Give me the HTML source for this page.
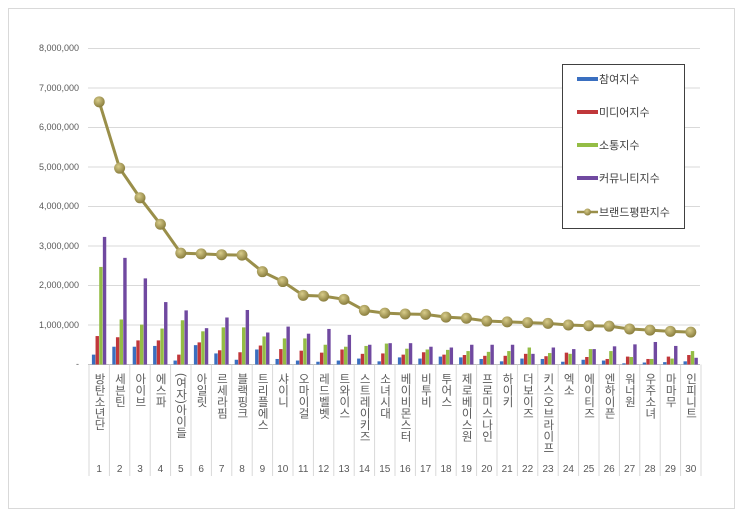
<!DOCTYPE html>
<html><head><meta charset="utf-8"><style>
body{margin:0;background:#fff;width:743px;height:518px;overflow:hidden}
svg{display:block}
.yl{font:9px "Liberation Sans",sans-serif;fill:#595959;text-anchor:end}
.n{font:10px "Liberation Sans",sans-serif;fill:#595959;text-anchor:middle}
.k{font-family:"Liberation Sans","Noto Sans CJK KR",sans-serif;font-size:11.5px;fill:#595959;writing-mode:tb;glyph-orientation-vertical:0;letter-spacing:0px}
.lg{font-family:"Liberation Sans","Noto Sans CJK KR",sans-serif;font-size:11px;fill:#404040}
</style></head><body>
<svg id="s" width="743" height="518" xmlns="http://www.w3.org/2000/svg">
<defs>
<radialGradient id="m" cx="40%" cy="35%" r="65%"><stop offset="0" stop-color="#d8cc8a"/><stop offset="1" stop-color="#8a7e3e"/></radialGradient>
</defs>
<rect x="8.5" y="8.5" width="726" height="500" fill="#fff" stroke="#d9d9d9"/>
<g id="grid" stroke="#d9d9d9" stroke-width="1"></g>
<g>
<text class="yl" x="79" y="51">8,000,000</text>
<text class="yl" x="79" y="91">7,000,000</text>
<text class="yl" x="79" y="130">6,000,000</text>
<text class="yl" x="79" y="170">5,000,000</text>
<text class="yl" x="79" y="209">4,000,000</text>
<text class="yl" x="79" y="249">3,000,000</text>
<text class="yl" x="79" y="288">2,000,000</text>
<text class="yl" x="79" y="328">1,000,000</text>
<text class="yl" x="79" y="367">-</text>
</g>
<g id="bars"></g>
<g id="line"></g>
<g id="labels">
<text class="k" x="99" y="373">방탄소년단</text>
<text class="k" x="119.4" y="373">세븐틴</text>
<text class="k" x="139.8" y="373">아이브</text>
<text class="k" x="160.2" y="373">에스파</text>
<text class="k" x="180.6" y="373">(여자)아이들</text>
<text class="k" x="201" y="373">아일릿</text>
<text class="k" x="221.4" y="373">르세라핌</text>
<text class="k" x="241.8" y="373">블랙핑크</text>
<text class="k" x="262.2" y="373">트리플에스</text>
<text class="k" x="282.6" y="373">샤이니</text>
<text class="k" x="303" y="373">오마이걸</text>
<text class="k" x="323.4" y="373">레드벨벳</text>
<text class="k" x="343.8" y="373">트와이스</text>
<text class="k" x="364.2" y="373">스트레이키즈</text>
<text class="k" x="384.6" y="373">소녀시대</text>
<text class="k" x="405" y="373">베이비몬스터</text>
<text class="k" x="425.4" y="373">비투비</text>
<text class="k" x="445.8" y="373">투어스</text>
<text class="k" x="466.2" y="373">제로베이스원</text>
<text class="k" x="486.6" y="373">프로미스나인</text>
<text class="k" x="507" y="373">하이키</text>
<text class="k" x="527.4" y="373">더보이즈</text>
<text class="k" x="547.8" y="373">키스오브라이프</text>
<text class="k" x="568.2" y="373">엑소</text>
<text class="k" x="588.6" y="373">에이티즈</text>
<text class="k" x="609" y="373">엔하이픈</text>
<text class="k" x="629.4" y="373">워너원</text>
<text class="k" x="649.8" y="373">우주소녀</text>
<text class="k" x="670.2" y="373">마마무</text>
<text class="k" x="690.6" y="373">인피니트</text>
</g>
<g id="nums"></g>
<rect x="562.5" y="64.5" width="122" height="164" fill="#fff" stroke="#404040"/>
<rect x="577" y="77" width="21" height="4" fill="#3a6fc0"/>
<rect x="577" y="110" width="21" height="4" fill="#c0373a"/>
<rect x="577" y="143" width="21" height="4" fill="#94bd45"/>
<rect x="577" y="176" width="21" height="4" fill="#7049a0"/>
<line x1="577" y1="212" x2="598" y2="212" stroke="#9a8f4a" stroke-width="2.5"/>
<circle cx="587.5" cy="212" r="3.5" fill="url(#m)"/>
<text class="lg" x="599" y="83">참여지수</text>
<text class="lg" x="599" y="116">미디어지수</text>
<text class="lg" x="599" y="149">소통지수</text>
<text class="lg" x="599" y="182">커뮤니티지수</text>
<text class="lg" x="599" y="216">브랜드평판지수</text>
</svg>
<script>
var ns="http://www.w3.org/2000/svg";
function el(t,a,p){var e=document.createElementNS(ns,t);for(var k in a)e.setAttribute(k,a[k]);p.appendChild(e);return e;}
var g=document.getElementById('grid');
for(var i=1;i<=8;i++){var y=364.5-i*39.5;el('line',{x1:88,x2:700,y1:y,y2:y},g);}
el('line',{x1:88,x2:700,y1:364.5,y2:364.5,stroke:"#bfbfbf"},g);
var X0=89,W=20.4;
for(var i=0;i<=30;i++){var x=X0+i*W;el('line',{x1:x,x2:x,y1:364.5,y2:476,stroke:"#d9d9d9"},g);}
var nums=document.getElementById('nums');
for(var i=0;i<30;i++){var t=el('text',{class:'n',x:X0+W*(i+0.5),y:472},nums);t.textContent=String(i+1);}
var d=[[.25,.72,2.47,3.23],[.45,.69,1.14,2.7],[.45,.61,1.01,2.18],[.47,.61,.91,1.58],[.1,.25,1.12,1.37],[.49,.56,.84,.92],[.28,.36,.94,1.19],[.12,.31,.94,1.38],[.38,.48,.71,.81],[.14,.39,.66,.96],[.1,.35,.66,.78],[.07,.3,.5,.9],[.1,.38,.45,.75],[.15,.27,.47,.5],[.08,.28,.53,.54],[.18,.25,.4,.54],[.15,.31,.38,.45],[.2,.25,.37,.43],[.18,.24,.34,.5],[.14,.22,.32,.5],[.08,.22,.34,.5],[.15,.27,.43,.27],[.14,.21,.29,.43],[.07,.3,.27,.39],[.12,.19,.39,.39],[.1,.14,.34,.46],[.03,.2,.19,.51],[.05,.14,.14,.57],[.06,.2,.15,.47],[.08,.24,.34,.17]];
var cols=["#3a6fc0","#c0373a","#94bd45","#7049a0"];
var b=document.getElementById('bars');
for(var i=0;i<30;i++){var cx=X0+W*(i+0.5);for(var j=0;j<4;j++){var h=d[i][j]*39.5;el('rect',{x:cx-7.3+j*3.65,y:364.5-h,width:3.4,height:h,fill:cols[j]},b);}}
var L=[6.65,4.97,4.22,3.55,2.82,2.8,2.78,2.77,2.35,2.1,1.75,1.73,1.65,1.37,1.3,1.28,1.27,1.2,1.17,1.1,1.08,1.06,1.04,1.0,0.98,0.97,0.9,0.87,0.84,0.82];
var lg=document.getElementById('line');var pts=L.map(function(v,i){return (X0+W*(i+0.5))+","+(364.5-v*39.5);}).join(" ");
el('polyline',{points:pts,fill:"none",stroke:"#9a8f4a","stroke-width":3},lg);
L.forEach(function(v,i){el('circle',{cx:X0+W*(i+0.5),cy:364.5-v*39.5,r:5.5,fill:"url(#m)"},lg);});
</script>
</body></html>
